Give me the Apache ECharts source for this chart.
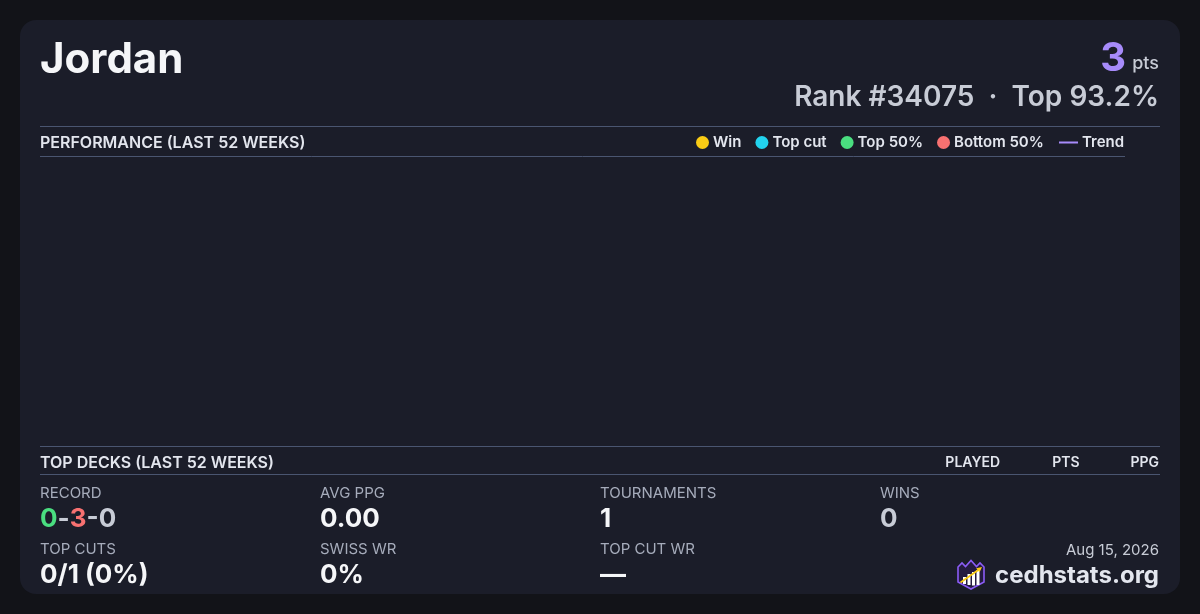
<!DOCTYPE html>
<html>
<head>
<meta charset="utf-8">
<script src="https://cdn.jsdelivr.net/npm/echarts@6/dist/echarts.min.js"></script>
<style>
html,body{margin:0;padding:0;background:#121318;}
#chart{width:1200px;height:614px;}
</style>
</head>
<body>
<div id="chart"></div>
<script>
// ---- data ----
const playerName = 'Jordan';
const points = 3;
const rank = 34075;
const topPercent = 93.2;
const legendNames = ['Win', 'Top cut', 'Top 50%', 'Bottom 50%'];
const trendName = 'Trend';
const weekLabels = [];          // no events plotted in the last 52 weeks
const winPoints = [];
const topCutPoints = [];
const top50Points = [];
const bottom50Points = [];
const trendPoints = [];
const deckColumns = ['PLAYED', 'PTS', 'PPG'];
const recordWins = 0, recordLosses = 3, recordDraws = 0;
const statLabels = ['RECORD', 'AVG PPG', 'TOURNAMENTS', 'WINS', 'TOP CUTS', 'SWISS WR', 'TOP CUT WR'];
const statValues = [recordWins + '-' + recordLosses + '-' + recordDraws, '0.00', '1', '0', '0/1 (0%)', '0%', '—'];
const dateText = 'Aug 15, 2026';
const siteName = 'cedhstats.org';

// ---- styles ----
const FONT = 'Inter, "Noto Sans", sans-serif';
const C = {
  card: '#1b1d29', line: '#4a5570', head: '#e3e6ee', label: '#a6acbb',
  value: '#f5f6f8', gray: '#c8ccd6', win: '#facc15', topcut: '#22d3ee',
  top50: '#4ade80', bottom50: '#f87171', trend: '#a78bfa'
};
const seriesColors = [C.win, C.topcut, C.top50, C.bottom50];
const seriesData = [winPoints, topCutPoints, top50Points, bottom50Points];

function txt(text, x, y, font, fill, align, extra) {
  return Object.assign({
    type: 'text',
    style: { text: text, x: x, y: y, font: font, fill: fill, align: align || 'left', verticalAlign: 'middle' }
  }, extra || {});
}
function hline(x1, x2, y) {
  return { type: 'line', shape: { x1: x1, y1: y, x2: x2, y2: y }, style: { stroke: C.line, lineWidth: 1 } };
}

const colX = [40, 320, 600, 880];
const row1Label = 493, row1Value = 519.5, row2Label = 549, row2Value = 575.5;
const LBL = '400 15px ' + FONT, VAL = 'bold 26px ' + FONT, SEC = '600 16px ' + FONT;

const graphics = [
  { type: 'rect', z: -10, shape: { x: 20, y: 20, width: 1160, height: 574, r: 16 }, style: { fill: C.card } },
  txt(playerName, 40, 60, 'bold 42px ' + FONT, C.value),
  txt('pts', 1159, 64, '500 18px ' + FONT, C.gray, 'right'),
  txt(String(points), 1126, 59, 'bold 40px ' + FONT, C.trend, 'right'),
  txt('Rank #' + rank + '  ·  Top ' + topPercent + '%', 1159, 97.5, '600 28px ' + FONT, C.gray, 'right'),
  hline(40, 1160, 126.5),
  txt('PERFORMANCE (LAST 52 WEEKS)', 40, 143, SEC, C.head),
  hline(40, 1125, 156.5),
  hline(40, 1160, 446.5),
  txt('TOP DECKS (LAST 52 WEEKS)', 40, 463, SEC, C.head),
  txt(deckColumns[0], 1000, 463, '600 14px ' + FONT, C.head, 'right'),
  txt(deckColumns[1], 1066, 463, '600 14px ' + FONT, C.head, 'center'),
  txt(deckColumns[2], 1159, 463, '600 14px ' + FONT, C.head, 'right'),
  hline(40, 1160, 474.5),
  // stats row 1
  txt(statLabels[0], colX[0], row1Label, LBL, C.label),
  {
    type: 'text',
    style: {
      x: colX[0], y: row1Value, verticalAlign: 'middle',
      text: '{g|' + recordWins + '}{d|-}{r|' + recordLosses + '}{d|-' + recordDraws + '}',
      rich: {
        g: { font: VAL, fill: C.top50 },
        r: { font: VAL, fill: C.bottom50 },
        d: { font: VAL, fill: C.gray }
      }
    }
  },
  txt(statLabels[1], colX[1], row1Label, LBL, C.label),
  txt(statValues[1], colX[1], row1Value, VAL, C.value),
  txt(statLabels[2], colX[2], row1Label, LBL, C.label),
  txt(statValues[2], colX[2], row1Value, VAL, C.value),
  txt(statLabels[3], colX[3], row1Label, LBL, C.label),
  txt(statValues[3], colX[3], row1Value, VAL, C.gray),
  // stats row 2
  txt(statLabels[4], colX[0], row2Label, LBL, C.label),
  txt(statValues[4], colX[0], row2Value, VAL, C.value),
  txt(statLabels[5], colX[1], row2Label, LBL, C.label),
  txt(statValues[5], colX[1], row2Value, VAL, C.value),
  txt(statLabels[6], colX[2], row2Label, LBL, C.label),
  txt(statValues[6], colX[2], row2Value, VAL, C.value),
  // footer
  txt(dateText, 1159, 550, '400 15px ' + FONT, C.gray, 'right'),
  txt(siteName, 1159, 576, 'bold 24px ' + FONT, C.head, 'right'),
  // logo
  {
    type: 'group', x: 957, y: 560,
    children: [
      { type: 'polygon', shape: { points: [[1,7],[5,3],[8.5,6.5],[14,0.5],[19.5,6.5],[23,3],[27,7],[27,22],[14,29],[1,22]] },
        style: { fill: '#241b40', stroke: '#8b5cf6', lineWidth: 1.6 } },
      { type: 'rect', shape: { x: 6, y: 17, width: 3, height: 7 }, style: { fill: '#ffffff' } },
      { type: 'rect', shape: { x: 10.5, y: 14, width: 3, height: 11 }, style: { fill: '#ffffff' } },
      { type: 'rect', shape: { x: 15, y: 12, width: 3, height: 13.5 }, style: { fill: '#ffffff' } },
      { type: 'rect', shape: { x: 19.5, y: 10, width: 3, height: 15 }, style: { fill: '#ffffff' } },
      { type: 'line', shape: { x1: 3.5, y1: 22.5, x2: 22, y2: 9.5 }, style: { stroke: '#facc15', lineWidth: 1.8 } },
      { type: 'polygon', shape: { points: [[25,7],[19.2,8.3],[22.6,12.2]] }, style: { fill: '#facc15' } }
    ]
  }
];

const series = legendNames.map(function (n, i) {
  return { name: n, type: 'scatter', data: seriesData[i], itemStyle: { color: seriesColors[i], opacity: 1 } };
});
series.push({ name: trendName, type: 'line', data: trendPoints, symbol: 'none', showSymbol: false,
  lineStyle: { color: C.trend, width: 2 }, itemStyle: { color: C.trend } });

const legendText = { color: C.head, fontFamily: FONT, fontWeight: 600, fontSize: 15, padding: [0, 0, 0, -1] };
const chart = echarts.init(document.getElementById('chart'), null, { renderer: 'canvas' });
chart.setOption({
  backgroundColor: '#121318',
  animation: false,
  textStyle: { fontFamily: FONT },
  grid: { left: 40, right: 75, top: 160, bottom: 172, containLabel: false },
  xAxis: { type: 'category', data: weekLabels, show: false },
  yAxis: { type: 'value', show: false },
  legend: [
    {
      data: legendNames.map(function (n) { return { name: n, icon: 'circle', itemStyle: { opacity: 1 } }; }),
      left: 691, top: 130, itemWidth: 13, itemHeight: 13, itemGap: 14,
      textStyle: legendText, selectedMode: false
    },
    {
      data: [{ name: trendName, icon: 'path://M0,0L0,0Z M19,13L19,13Z M0,5.6L19,5.6L19,7.4L0,7.4Z' }],
      left: 1054, top: 130, itemWidth: 19, itemHeight: 13, itemGap: 0,
      textStyle: legendText, selectedMode: false
    }
  ],
  graphic: graphics,
  series: series
});
</script>
</body>
</html>
